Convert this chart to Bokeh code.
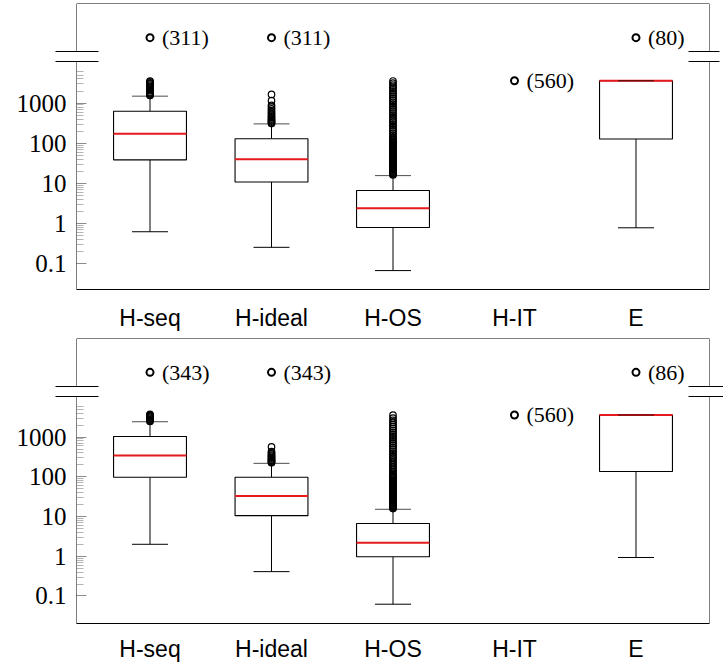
from bokeh.plotting import figure
from bokeh.layouts import column
from bokeh.models import (ColumnDataSource, FixedTicker, CustomJSTickFormatter,
                          Range1d, LogAxis, LinearAxis)
from bokeh.core.properties import value
from bokeh.embed import file_html
from bokeh.resources import INLINE

# ---------------- data ----------------
categories = ["H-seq", "H-ideal", "H-OS", "H-IT", "E"]
positions = [1, 2, 3, 4, 5]
y_ticks = [0.1, 1, 10, 100, 1000]
y_minor_ticks = [0.2, 0.3, 0.4, 0.5, 0.6, 0.7, 0.8, 0.9,
                 2, 3, 4, 5, 6, 7, 8, 9,
                 20, 30, 40, 50, 60, 70, 80, 90,
                 200, 300, 400, 500, 600, 700, 800, 900,
                 2000, 3000, 4000, 5000, 6000]
timeout_row = 42500  # position of the "timeout" markers above the axis break

# top panel
top_q1 = [38.8, 10.9, 0.80, None, 128]
top_med = [172, 40, 2.41, None, 3600]
top_q3 = [625, 130, 6.7, None, 3600]
top_lo = [0.63, 0.258, 0.068, None, 0.79]
top_hi = [1490, 304, 15.7, None, 3600]
top_out_hseq = [1550, 1620, 1700, 1800, 1900, 2050, 2200, 2400, 2600, 2800,
                3000, 3200, 3400, 3550]
top_out_hideal = [310, 325, 340, 360, 380, 400, 430, 460, 500, 540, 590, 650,
                  720, 800, 880, 1150, 1650]
top_out_hos = [16.3, 17, 17.8, 18.6, 19.5, 20.4, 21.4, 22.4, 23.5, 24.6, 25.8,
               27, 28.3, 29.7, 31, 32.5, 34, 35.6, 37.3, 39, 41, 43, 45, 47,
               49.5, 52, 54.5, 57, 60, 63, 66, 69, 72.5, 76, 80, 84, 88, 92,
               97, 102, 107, 113, 119, 125, 132, 145, 160, 178, 198, 220, 245,
               272, 300, 335, 370, 410, 455, 505, 560, 620, 690, 770, 850, 950,
               1050, 1170, 1300, 1450, 1620, 1800, 2000, 2250, 2500, 2800,
               3150, 3550]
top_count_cats = ["H-seq", "H-ideal", "H-IT", "E"]
top_count_y = [timeout_row, timeout_row, 3600, timeout_row]
top_count_labels = ["(311)", "(311)", "(560)", "(80)"]

# bottom panel
bot_q1 = [97, 10.5, 0.97, None, 136]
bot_med = [344, 32.7, 2.2, None, 3600]
bot_q3 = [1035, 97, 6.7, None, 3600]
bot_lo = [2.0, 0.41, 0.062, None, 0.93]
bot_hi = [2430, 218, 15.2, None, 3600]
bot_out_hseq = [2480, 2600, 2720, 2850, 3000, 3150, 3300, 3450, 3600, 3750]
bot_out_hideal = [225, 235, 245, 255, 265, 280, 295, 310, 330, 350, 375, 400,
                  430, 565]
bot_out_hos = [15.8, 16.5, 17.2, 18, 18.8, 19.7, 20.6, 21.6, 22.6, 23.7, 24.8,
               26, 27.3, 28.6, 30, 31.5, 33, 34.6, 36.3, 38, 40, 42, 44, 46.5,
               49, 51.5, 54, 57, 60, 63, 66.5, 70, 74, 78, 83, 88, 94, 100,
               107, 115, 124, 135, 148, 162, 178, 196, 216, 238, 262, 290, 320,
               355, 395, 440, 490, 545, 610, 680, 760, 850, 950, 1060, 1180,
               1320, 1480, 1650, 1850, 2080, 2350, 2650, 3000, 3550]
bot_count_cats = ["H-seq", "H-ideal", "H-IT", "E"]
bot_count_y = [timeout_row, timeout_row, 3600, timeout_row]
bot_count_labels = ["(343)", "(343)", "(560)", "(86)"]

SERIF = "Liberation Serif"
SANS = "Liberation Sans"
X_START, X_END = 0.395, 5.605
BRK_OUT_LEFT = 21


def bare_axis(cls, **kw):
    ax = cls(**kw)
    ax.major_label_text_color = None
    ax.major_label_standoff = 0
    ax.major_tick_line_color = None
    ax.major_tick_in = 0
    ax.major_tick_out = 0
    return ax


def edge_line(cls, loc, bounds=None):
    kw = dict(fixed_location=loc, ticker=FixedTicker(ticks=[]),
              axis_line_color="black", minor_tick_line_color=None)
    if bounds is not None:
        kw["bounds"] = bounds
    return bare_axis(cls, **kw)


def make_panel(q1, med, q3, lo, hi, outliers, count_cats, count_y, count_labels,
               log_lo, log_hi, width, height, b_left, b_right, b_top, b_bottom,
               x_standoff):
    y_lo, y_hi = 10 ** log_lo, 10 ** log_hi
    fh = height - b_top - b_bottom
    ppd = fh / (log_hi - log_lo)
    brk_hi = 10 ** (log_hi - 49 / ppd)   # upper break line
    brk_lo = 10 ** (log_hi - 59 / ppd)   # lower break line

    p = figure(width=width, height=height, y_axis_type="log",
               x_range=Range1d(X_START, X_END), y_range=Range1d(y_lo, y_hi),
               output_backend="svg", toolbar_location=None, title=None,
               min_border_left=b_left, min_border_right=b_right,
               min_border_top=b_top, min_border_bottom=b_bottom)
    p.xgrid.visible = False
    p.ygrid.visible = False
    p.outline_line_color = None
    p.background_fill_color = "white"
    p.border_fill_color = "white"

    # boxes
    idx = [i for i in range(len(categories)) if q1[i] is not None]
    src = ColumnDataSource(dict(
        x=[positions[i] for i in idx],
        q1=[q1[i] for i in idx], med=[med[i] for i in idx],
        q3=[q3[i] for i in idx], lo=[lo[i] for i in idx],
        hi=[hi[i] for i in idx]))
    p.segment(x0="x", y0="lo", x1="x", y1="q1", source=src,
              line_color="black", line_width=1)
    p.segment(x0="x", y0="q3", x1="x", y1="hi", source=src,
              line_color="black", line_width=1)
    p.vbar(x="x", width=0.6, bottom="q1", top="q3", source=src,
           fill_color="white", line_color="black", line_width=1.1)
    p.dash(x="x", y="med", size=73, angle=0, source=src,
           line_color="#e41a1c", line_width=2)
    p.dash(x="x", y="lo", size=36, source=src, line_color="black",
           line_width=1)
    p.dash(x="x", y="hi", size=36, source=src, line_color="black",
           line_width=1, line_alpha=0.7)

    # outliers
    ox, oy = [], []
    for cat, vals in outliers.items():
        xpos = positions[categories.index(cat)]
        ox += [xpos] * len(vals)
        oy += vals
    p.scatter(x=ox, y=oy, marker="circle", size=6.5, fill_color=None,
              line_color="black", line_width=1.2)

    # count markers
    cx = [positions[categories.index(c)] for c in count_cats]
    csrc = ColumnDataSource(dict(x=cx, y=count_y, t=count_labels))
    p.scatter(x="x", y="y", source=csrc, marker="circle", size=7,
              fill_color=None, line_color="black", line_width=2)
    p.text(x="x", y="y", text="t", source=csrc, x_offset=12,
           text_font=value(SERIF), text_font_size="22px",
           text_baseline="middle", text_align="left", text_color="black")

    # main y axis: decade ticks + labels; its minor ticks are the break marks
    ya = p.yaxis[0]
    ya.ticker = FixedTicker(ticks=y_ticks, minor_ticks=[brk_lo, brk_hi])
    ya.formatter = CustomJSTickFormatter(code="return tick.toString();")
    ya.axis_line_color = None
    ya.major_tick_in = 10
    ya.major_tick_out = 0
    ya.major_tick_line_color = "#8c8c8c"
    ya.minor_tick_in = 22
    ya.minor_tick_out = BRK_OUT_LEFT
    ya.minor_tick_line_color = "black"
    ya.major_label_standoff = 10 - BRK_OUT_LEFT
    ya.major_label_text_font = SERIF
    ya.major_label_text_font_size = "25px"
    ya.major_label_text_color = "black"

    # x axis (bottom edge)
    xa = p.xaxis[0]
    xa.ticker = FixedTicker(ticks=positions)
    xa.major_label_overrides = {pos: c for pos, c in zip(positions, categories)}
    xa.axis_line_color = "black"
    xa.major_tick_line_color = None
    xa.minor_tick_line_color = None
    xa.major_label_standoff = x_standoff
    xa.major_label_text_font = SANS
    xa.major_label_text_font_size = "23px"
    xa.major_label_text_color = "black"

    # right side: break marks as minor ticks of a label-less axis
    p.add_layout(bare_axis(LogAxis, ticker=FixedTicker(ticks=[], minor_ticks=[brk_lo, brk_hi]),
                           axis_line_color=None, minor_tick_line_color="black",
                           minor_tick_in=21, minor_tick_out=b_right), "right")
    # fine minor ticks (2..9 per decade), drawn inside the frame
    p.add_layout(bare_axis(LogAxis, fixed_location=X_START,
                           ticker=FixedTicker(ticks=[], minor_ticks=y_minor_ticks),
                           axis_line_color=None, minor_tick_line_color="#b4b4b4",
                           minor_tick_in=7, minor_tick_out=0), "left")
    # frame edges with gaps at the break
    p.add_layout(edge_line(LogAxis, X_START, (y_lo, brk_lo)), "left")
    p.add_layout(edge_line(LogAxis, X_START, (brk_hi, y_hi)), "left")
    p.add_layout(edge_line(LogAxis, X_END, (y_lo, brk_lo)), "right")
    p.add_layout(edge_line(LogAxis, X_END, (brk_hi, y_hi)), "right")
    p.add_layout(edge_line(LinearAxis, y_hi), "above")
    return p


p1 = make_panel(top_q1, top_med, top_q3, top_lo, top_hi,
                {"H-seq": top_out_hseq, "H-ideal": top_out_hideal,
                 "H-OS": top_out_hos},
                top_count_cats, top_count_y, top_count_labels,
                -1.638, 5.479, 723, 333, 76, 10, 3, 40, 9)
p2 = make_panel(bot_q1, bot_med, bot_q3, bot_lo, bot_hi,
                {"H-seq": bot_out_hseq, "H-ideal": bot_out_hideal,
                 "H-OS": bot_out_hos},
                bot_count_cats, bot_count_y, bot_count_labels,
                -1.693, 5.481, 723, 331, 72, 14, 5, 36, 6)

layout = column(p1, p2)

open("out.html", "w").write(file_html(layout, INLINE))
